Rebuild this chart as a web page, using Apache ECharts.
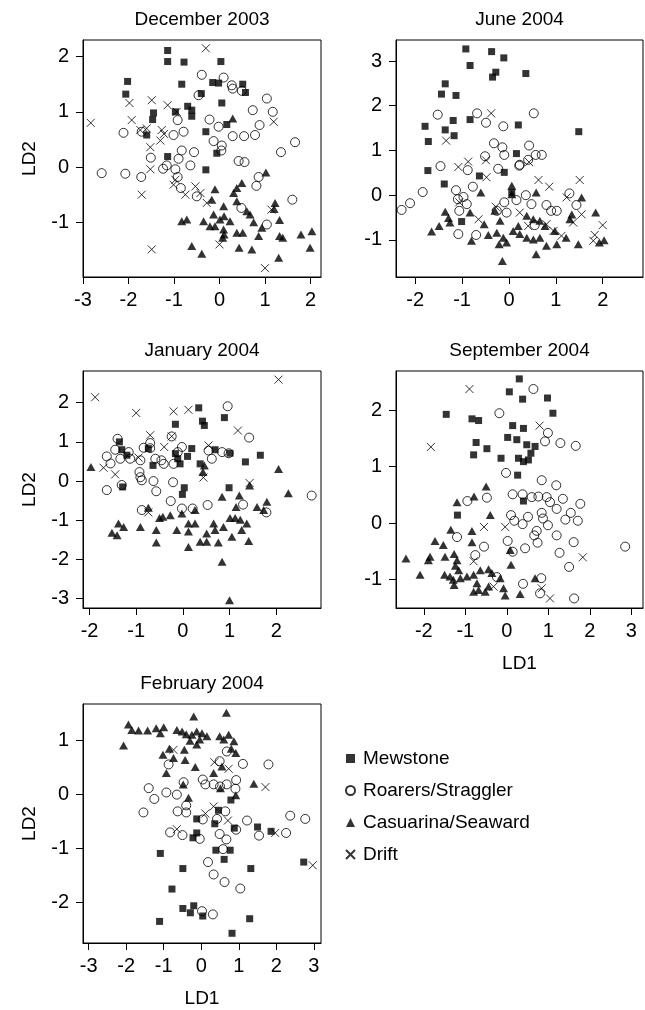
<!DOCTYPE html>
<html>
<head>
<meta charset="utf-8">
<script src="https://cdn.jsdelivr.net/npm/echarts@6/dist/echarts.min.js"></script>
<style>
html, body { margin: 0; padding: 0; background: #fff; }
#chart { width: 645px; height: 1010px; }
</style>
</head>
<body>
<div id="chart"></div>
<script>
// ---- December 2003 (LD1, LD2) ----
const dec03Mewstone = [[-1.14,2.11],[-1.14,1.91],[-0.78,1.90],[0.03,1.91],[-2.02,1.55],[-2.06,1.32],[-0.83,1.50],[-0.15,1.53],[-0.02,1.52],[0.51,1.50],[0.57,1.35],[-0.40,1.33],[0.05,1.16],[-0.70,1.10],[-0.61,1.03],[-0.97,1.00],[-0.61,0.92],[-1.45,0.98],[-1.47,0.86],[-1.60,0.58],[-0.30,0.64],[0.16,0.77],[-0.06,0.25],[-1.14,0.19],[-0.30,-0.05]];
const dec03Roarers = [[-0.39,1.67],[0.09,1.62],[0.27,1.48],[0.29,1.42],[0.49,1.38],[-0.46,1.30],[1.04,1.24],[0.73,1.03],[1.17,1.00],[-0.22,0.86],[-0.92,0.85],[-0.02,0.73],[0.88,0.76],[-2.11,0.62],[-1.71,0.64],[-1.01,0.58],[-0.79,0.64],[0.29,0.56],[0.54,0.56],[0.78,0.58],[1.66,0.45],[-0.13,0.47],[0.05,0.39],[0.04,0.30],[-0.83,0.30],[-0.56,0.27],[1.35,0.27],[-1.51,0.17],[-0.90,0.15],[-1.16,0.03],[-0.64,0.03],[0.42,0.11],[0.55,0.09],[-2.59,-0.11],[-2.07,-0.12],[-1.72,-0.18],[-0.97,-0.04],[-0.92,-0.18],[-0.85,-0.38],[-0.50,-0.53],[0.86,-0.18],[0.81,-0.34],[0.48,-0.74],[1.60,-0.59],[1.04,-1.04],[-1.24,-0.03]];
const dec03Casuarina = [[0.29,0.88],[1.02,-0.10],[-0.10,-0.40],[0.49,-0.29],[0.38,-0.38],[0.31,-0.47],[0.38,-0.62],[-0.17,-0.59],[0.09,-0.71],[-0.13,-0.86],[0.10,-0.89],[0.01,-0.95],[0.23,-0.98],[-0.83,-0.98],[-0.72,-0.95],[-0.35,-0.98],[-0.21,-1.07],[-0.10,-1.07],[0.09,-1.13],[0.10,-1.22],[0.07,-1.28],[0.38,-1.19],[0.51,-1.19],[0.60,-0.80],[0.67,-0.86],[0.75,-1.00],[0.86,-1.25],[0.93,-1.10],[1.22,-0.65],[1.20,-0.76],[1.32,-0.96],[1.32,-1.25],[1.39,-1.28],[1.79,-1.22],[2.03,-1.16],[1.99,-1.46],[1.30,-1.64],[0.71,-1.49],[0.43,-1.46],[-0.61,-1.43],[-0.39,-1.57]];
const dec03Drift = [[-0.30,2.15],[-2.83,0.80],[-1.98,1.16],[-1.49,1.21],[-1.14,1.12],[-1.93,0.85],[-1.74,0.67],[-1.27,0.67],[-1.52,0.36],[-1.30,0.48],[1.19,0.82],[-0.94,1.00],[-1.52,-0.04],[-1.71,-0.50],[-0.97,-0.23],[-1.01,-0.32],[-0.53,-0.35],[-0.75,-0.50],[-0.42,-0.47],[-0.28,-0.65],[1.14,-0.77],[-1.49,-1.49],[0.00,-1.40],[1.00,-1.83],[-1.22,0.60],[-1.60,0.70]];

// ---- June 2004 ----
const jun04Mewstone = [[-0.92,3.27],[-0.83,2.90],[-0.37,3.21],[-0.11,3.07],[-0.28,2.75],[-0.35,2.64],[0.36,2.72],[-1.36,2.49],[-1.44,2.26],[-1.13,2.23],[-1.79,1.54],[-1.72,1.20],[-1.36,1.46],[-1.19,1.67],[-1.17,1.33],[-0.83,1.69],[0.20,1.57],[1.49,1.42],[0.16,0.93],[-1.73,0.55],[-1.38,0.25],[-0.63,0.43],[-0.10,0.51],[0.06,0.06],[-1.01,-0.59]];
const jun04Roarers = [[-1.52,1.80],[-0.68,1.83],[-0.49,1.62],[-0.12,1.54],[0.53,1.83],[-0.32,1.16],[-0.14,1.07],[-0.10,0.90],[0.43,1.11],[0.57,0.90],[0.70,0.90],[0.41,0.79],[0.23,0.68],[-0.51,0.87],[-1.46,0.65],[-0.88,0.56],[-0.23,0.59],[0.22,0.66],[-2.29,-0.33],[-2.11,-0.18],[-1.84,0.07],[-0.77,0.19],[-1.13,0.11],[-1.09,-0.09],[-0.97,-0.04],[-0.90,-0.20],[-1.06,-0.35],[-1.08,-0.87],[-0.70,-0.89],[-0.26,-0.35],[-0.10,-0.16],[0.16,-0.11],[0.36,0.00],[0.48,-0.20],[0.80,-0.22],[0.90,-0.35],[1.02,-0.35],[1.29,0.04],[1.44,-0.22],[-0.05,-0.39],[0.55,-0.67]];
const jun04Casuarina = [[0.06,0.21],[0.06,0.02],[-0.60,0.06],[0.58,0.06],[1.55,-0.05],[1.85,-0.39],[-1.36,-0.37],[-1.29,-0.51],[-1.26,-0.61],[-1.49,-0.69],[-1.65,-0.81],[-0.83,-0.39],[-0.53,-0.65],[-0.44,-0.89],[-0.80,-1.02],[-0.30,-0.35],[-0.19,-0.57],[-0.26,-0.84],[-0.12,-0.95],[-0.21,-1.10],[-0.05,-1.06],[0.09,-0.80],[0.20,-0.69],[0.23,-0.87],[0.38,-0.95],[0.38,-0.46],[0.52,-0.54],[0.66,-0.57],[0.77,-0.69],[0.52,-0.99],[0.66,-0.95],[0.80,-1.13],[1.02,-1.10],[0.98,-0.80],[1.22,-0.95],[1.30,-0.54],[1.34,-0.43],[1.48,-1.10],[1.93,-1.06],[2.03,-1.01],[0.58,-1.32],[-0.14,-1.47]];
const jun04Drift = [[-0.38,1.83],[-1.34,1.22],[-1.08,0.63],[-0.87,0.75],[-0.49,0.78],[0.43,0.74],[-0.48,0.40],[0.63,0.34],[0.86,0.19],[1.51,0.34],[1.23,-0.05],[-1.06,-0.16],[-0.65,-0.54],[-0.28,-0.26],[0.23,-0.39],[0.41,-0.69],[0.80,-0.65],[0.95,-0.80],[1.12,-0.91],[1.37,-0.61],[1.55,-0.43],[2.00,-0.67],[1.83,-0.89],[1.80,-1.02]];

// ---- January 2004 ----
const jan04Mewstone = [[0.34,1.87],[0.42,1.53],[0.46,1.42],[-0.16,1.45],[0.89,1.62],[-1.36,1.00],[-1.31,0.80],[-1.20,0.66],[-0.74,0.83],[-0.64,0.40],[-0.16,0.70],[-0.11,0.57],[-0.06,0.44],[0.10,0.63],[0.19,0.83],[0.37,0.44],[0.69,0.80],[1.01,0.71],[1.34,0.49],[1.66,0.66],[-1.29,-0.15],[0.03,-0.17],[-0.01,-0.34],[0.99,-0.17]];
const jan04Roarers = [[-1.40,1.08],[-1.45,0.80],[-1.63,0.63],[-1.34,0.57],[-1.16,0.74],[-1.13,0.57],[-0.91,0.53],[-0.84,0.85],[-0.70,0.97],[-0.70,0.84],[-0.59,0.57],[-0.46,0.53],[-0.41,0.44],[-0.02,0.87],[-0.11,0.74],[-0.20,0.44],[0.62,0.57],[0.55,0.78],[0.84,0.74],[0.98,0.71],[0.96,1.91],[1.42,1.11],[-0.93,0.23],[-0.91,0.10],[-0.88,0.02],[-0.63,0.00],[-0.21,-0.03],[-1.63,-0.23],[-1.31,-0.10],[-0.57,-0.26],[-0.88,-0.74],[-0.26,-0.51],[-0.02,-0.70],[0.21,-0.70],[0.53,-0.61],[1.29,-0.60],[1.79,-0.80],[2.76,-0.37],[-0.24,1.14],[-1.55,0.45]];
const jan04Casuarina = [[-1.97,0.36],[0.46,0.40],[0.43,0.23],[2.05,0.31],[1.43,-0.11],[2.26,-0.31],[1.21,-0.37],[0.84,-0.40],[1.14,-0.66],[1.59,-0.66],[1.80,-0.53],[1.73,-0.74],[0.26,-0.74],[-0.02,-0.83],[-0.27,-0.87],[-0.43,-0.91],[-0.50,-0.94],[-0.74,-0.68],[1.01,-0.94],[1.12,-0.94],[1.23,-0.99],[1.37,-1.08],[1.26,-1.25],[0.66,-1.08],[0.87,-1.17],[0.69,-1.25],[0.51,-1.34],[0.37,-1.55],[0.51,-1.55],[0.76,-1.57],[1.05,-1.42],[1.41,-1.53],[0.26,-1.08],[0.12,-1.08],[0.12,-1.29],[-0.13,-1.25],[-0.57,-1.25],[-0.57,-1.57],[-0.91,-1.17],[0.12,-1.68],[0.84,-2.06],[1.00,-3.04],[-1.38,-1.08],[-1.27,-1.17],[-1.52,-1.32],[-1.41,-1.38]];
const jan04Drift = [[-1.88,2.14],[-1.00,1.74],[-0.20,1.78],[0.12,1.82],[2.05,2.59],[1.18,1.29],[-0.70,1.17],[-0.24,1.14],[-0.40,0.87],[0.55,0.91],[-1.70,0.34],[-1.45,0.17],[0.44,0.09],[1.43,-0.05],[-0.74,-0.80],[-0.95,0.60]];

// ---- September 2004 ----
const sep04Mewstone = [[0.30,2.56],[0.06,2.33],[0.38,2.20],[0.98,2.22],[1.11,1.95],[-1.46,1.93],[-0.84,1.85],[-0.68,1.82],[0.14,1.73],[0.40,1.68],[0.02,1.52],[0.24,1.48],[0.48,1.39],[0.68,1.36],[-0.74,1.43],[-0.48,1.32],[-0.80,1.21],[-0.14,1.15],[0.28,1.15],[0.40,1.09],[0.52,1.12],[0.58,1.24],[0.26,0.85],[0.40,0.39],[-1.19,0.14]];
const sep04Roarers = [[0.64,2.38],[-0.18,1.95],[0.99,1.60],[0.92,1.45],[1.29,1.42],[1.66,1.37],[-0.02,0.89],[0.84,0.76],[1.19,0.67],[0.14,0.51],[0.38,0.51],[0.60,0.46],[0.76,0.47],[0.96,0.46],[1.04,0.37],[1.20,0.25],[1.35,0.43],[1.77,0.34],[1.54,0.18],[1.41,0.06],[1.71,0.04],[-0.95,0.39],[-0.48,0.45],[0.10,0.14],[0.18,0.04],[0.38,-0.02],[0.51,0.11],[0.84,0.18],[0.87,0.08],[0.99,-0.04],[0.72,-0.14],[0.66,-0.22],[0.74,-0.35],[1.20,-0.22],[1.61,-0.34],[0.44,-0.45],[0.02,-0.32],[0.14,-0.51],[1.27,-0.53],[1.50,-0.78],[2.85,-0.42],[-1.20,-0.25],[-0.55,-0.42],[-0.76,-0.57],[0.83,-0.98],[0.80,-1.25],[0.39,-1.08],[1.62,-1.34],[-0.24,-0.96]];
const sep04Casuarina = [[-0.50,0.65],[-0.79,0.47],[-1.20,0.37],[-0.40,0.14],[-1.35,-0.12],[-0.84,-0.14],[-0.84,-0.34],[-1.73,-0.32],[-1.53,-0.39],[-2.43,-0.63],[-1.85,-0.60],[-1.89,-0.66],[-1.49,-0.60],[-1.27,-0.55],[-1.20,-0.66],[-1.24,-0.76],[-1.16,-0.84],[-2.09,-0.92],[-1.50,-0.92],[-1.37,-0.95],[-1.29,-1.01],[-1.27,-1.10],[-1.12,-0.98],[-0.96,-0.95],[-0.80,-0.92],[-0.64,-0.84],[-0.44,-0.82],[-0.36,-0.89],[-0.16,-0.98],[-0.72,-1.07],[-0.80,-1.22],[-0.68,-1.19],[-0.52,-1.22],[-0.44,-1.13],[-0.08,-1.16],[-0.04,-1.29],[0.32,-1.26],[0.10,-0.74],[0.08,-0.48],[0.68,-0.98]];
const sep04Drift = [[-0.90,2.38],[-1.83,1.35],[0.79,1.73],[-0.55,-0.07],[-0.04,-0.07],[-0.80,-0.68],[1.83,-0.61],[0.84,-1.16],[1.04,-1.34],[-0.32,-1.13]];

// ---- February 2004 ----
const feb04Mewstone = [[0.79,-0.10],[0.46,-0.29],[-0.12,-0.45],[0.36,-0.54],[0.88,-0.62],[1.50,-0.60],[1.86,-0.68],[-0.12,-0.71],[-0.22,-0.80],[0.39,-1.03],[0.77,-1.03],[0.61,-1.20],[-1.09,-1.09],[-0.49,-1.37],[1.32,-1.37],[2.73,-1.25],[-0.78,-1.75],[-0.49,-2.11],[-0.20,-2.06],[-0.29,-2.19],[0.04,-2.25],[-1.11,-2.35],[1.29,-2.30],[0.82,-2.57]];
const feb04Roarers = [[0.68,0.80],[1.11,0.57],[1.79,0.56],[-0.87,0.56],[-1.40,0.12],[-1.25,-0.08],[-0.93,0.04],[-0.65,0.00],[-0.47,0.23],[0.04,0.28],[0.11,0.19],[0.33,0.19],[0.68,0.19],[0.93,0.27],[0.91,0.11],[0.49,0.62],[-1.54,-0.33],[-0.63,-0.31],[-0.40,-0.33],[-0.83,-0.70],[-0.50,-0.75],[-0.04,-0.82],[0.04,-0.46],[0.42,-0.45],[0.64,-0.31],[0.49,-0.73],[0.67,-0.83],[0.93,-0.65],[1.22,-0.48],[1.54,-0.76],[2.26,-0.71],[2.37,-0.39],[2.77,-0.45],[0.58,-1.01],[0.18,-1.25],[0.33,-1.48],[0.62,-1.62],[1.04,-1.74],[0.02,-2.16],[0.31,-2.22],[-0.40,-0.20],[0.50,0.15]];
const feb04Casuarina = [[-0.20,1.45],[0.67,1.52],[-1.94,1.30],[-1.85,1.20],[-1.67,1.19],[-1.43,1.19],[-1.20,1.23],[-1.00,1.25],[-1.09,1.14],[-0.65,1.20],[-0.51,1.17],[-0.40,1.12],[-0.25,1.11],[-0.12,1.17],[0.02,1.14],[0.15,1.08],[-0.04,1.02],[-0.12,0.93],[0.49,1.08],[0.60,1.02],[0.73,1.11],[0.87,0.99],[-2.07,0.91],[-1.02,0.74],[-0.74,0.68],[-0.45,0.83],[-0.43,0.64],[-0.93,0.40],[-0.16,0.51],[0.55,0.52],[0.92,0.77],[0.33,0.40],[1.40,0.20],[-0.48,0.19],[-0.34,-0.06],[0.51,0.12],[0.92,-0.01],[-0.30,1.00],[0.80,0.85],[-0.85,0.85]];
const feb04Drift = [[-0.74,0.83],[0.35,0.60],[0.73,0.48],[1.71,0.14],[0.33,-0.22],[0.11,-0.35],[0.71,-0.48],[-0.65,-0.64],[1.97,-0.71],[2.97,-1.31]];

const groupNames = ['Mewstone', 'Roarers/Straggler', 'Casuarina/Seaward', 'Drift'];
const panelTitles = ['December 2003', 'June 2004', 'January 2004', 'September 2004', 'February 2004'];
const xTickValues = [[-3, -2, -1, 0, 1, 2], [-2, -1, 0, 1, 2], [-2, -1, 0, 1, 2], [-2, -1, 0, 1, 2, 3], [-3, -2, -1, 0, 1, 2, 3]];
const yTickValues = [[-1, 0, 1, 2], [-1, 0, 1, 2, 3], [-3, -2, -1, 0, 1, 2], [-1, 0, 1, 2], [-2, -1, 0, 1]];

// same order as panelTitles, each row in groupNames order
const panelData = [
  [dec03Mewstone, dec03Roarers, dec03Casuarina, dec03Drift],
  [jun04Mewstone, jun04Roarers, jun04Casuarina, jun04Drift],
  [jan04Mewstone, jan04Roarers, jan04Casuarina, jan04Drift],
  [sep04Mewstone, sep04Roarers, sep04Casuarina, sep04Drift],
  [feb04Mewstone, feb04Roarers, feb04Casuarina, feb04Drift],
];

// plot boxes in px + axis ranges
const layout = [
  { left: 83, top: 40, width: 238, height: 237, x: [-3.0, 2.23], y: [-1.99, 2.30], yName: 'LD2', xName: '' },
  { left: 396, top: 40, width: 247, height: 237, x: [-2.41, 2.86], y: [-1.83, 3.47], yName: '', xName: '' },
  { left: 83, top: 371, width: 238, height: 237, x: [-2.14, 2.96], y: [-3.24, 2.81], yName: 'LD2', xName: '' },
  { left: 396, top: 371, width: 247, height: 237, x: [-2.67, 3.28], y: [-1.51, 2.70], yName: '', xName: 'LD1' },
  { left: 83, top: 704, width: 238, height: 239, x: [-3.15, 3.19], y: [-2.75, 1.68], yName: 'LD2', xName: 'LD1' },
];

const FONT = '"Liberation Sans", Arial, Helvetica, sans-serif';

const groupStyle = [
  { symbol: 'rect', symbolSize: 7, itemStyle: { color: '#000' } },
  { symbol: 'circle', symbolSize: 9, itemStyle: { color: 'rgba(255,255,255,0)', borderColor: '#000', borderWidth: 1 } },
  { symbol: 'triangle', symbolSize: [9, 8], itemStyle: { color: '#000' } },
  { symbol: 'path://M0,0L10,10M0,10L10,0', symbolSize: 8, itemStyle: { color: 'rgba(255,255,255,0)', borderColor: '#000', borderWidth: 1 } },
];

function makeAxis(i, dim) {
  const L = layout[i];
  const ticks = dim === 'x' ? xTickValues[i] : yTickValues[i];
  const range = dim === 'x' ? L.x : L.y;
  return {
    type: 'value',
    gridIndex: i,
    min: range[0],
    max: range[1],
    name: dim === 'x' ? L.xName : L.yName,
    nameLocation: 'middle',
    nameGap: dim === 'x' ? 46 : 44,
    nameRotate: dim === 'y' ? 90 : 0,
    nameTextStyle: { fontSize: 19, color: '#000', fontFamily: FONT },
    splitLine: { show: false },
    axisLine: { show: true, onZero: false, lineStyle: { color: '#000', width: 1 } },
    axisTick: { show: true, length: 7, customValues: ticks, lineStyle: { color: '#000', width: 1 } },
    axisLabel: {
      customValues: ticks,
      margin: dim === 'x' ? 13 : 14,
      fontSize: 20,
      color: '#000',
      fontFamily: FONT,
    },
  };
}

const grids = layout.map(L => ({
  left: L.left, top: L.top, width: L.width, height: L.height,
  show: true, borderColor: '#000', borderWidth: 1, backgroundColor: 'transparent',
}));

const titles = layout.map((L, i) => ({
  text: panelTitles[i],
  left: L.left + L.width / 2,
  top: L.top - 30,
  textAlign: 'center',
  padding: 0,
  textStyle: { fontSize: 19, fontWeight: 'normal', color: '#000', fontFamily: FONT },
}));

const series = [];
panelData.forEach((groups, i) => {
  groups.forEach((pts, g) => {
    series.push({
      name: groupNames[g],
      type: 'scatter',
      xAxisIndex: i,
      yAxisIndex: i,
      data: pts,
      symbol: groupStyle[g].symbol,
      symbolSize: groupStyle[g].symbolSize,
      symbolKeepAspect: true,
      itemStyle: groupStyle[g].itemStyle,
      emphasis: { disabled: true },
    });
  });
});

const chart = echarts.init(document.getElementById('chart'), null, { renderer: 'canvas' });
chart.setOption({
  backgroundColor: '#fff',
  animation: false,
  title: titles,
  grid: grids,
  xAxis: layout.map((L, i) => makeAxis(i, 'x')),
  yAxis: layout.map((L, i) => makeAxis(i, 'y')),
  legend: {
    data: groupNames,
    orient: 'vertical',
    left: 340,
    top: 744,
    itemWidth: 9,
    itemHeight: 9,
    itemGap: 13,
    selectedMode: false,
    textStyle: { fontSize: 19, color: '#000', fontFamily: FONT, padding: [0, 0, 0, 3] },
  },
  series: series,
});
</script>
</body>
</html>
